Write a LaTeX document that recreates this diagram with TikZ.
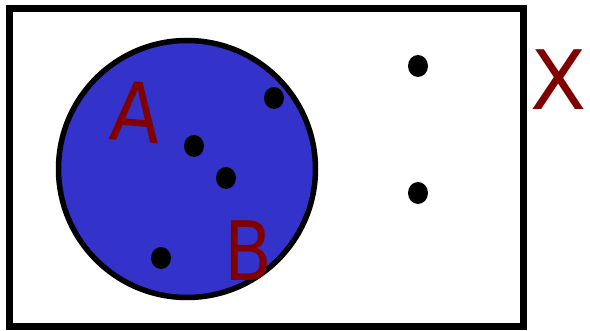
\documentclass[tikz,border=0pt]{standalone}
\usepackage{fontspec}
\setmainfont{DejaVu Sans}
\definecolor{setblue}{RGB}{51,51,204}
\definecolor{lblred}{RGB}{128,0,0}
\usetikzlibrary{shapes.geometric}
\tikzset{
  elem/.style={ellipse, fill=black, minimum width=20pt, minimum height=22pt, inner sep=0pt},
  lbl/.style={text=lblred, font=\fontsize{82}{82}\selectfont, inner sep=0pt},
}
\begin{document}
\begin{tikzpicture}[x=1pt,y=-1pt]
\useasboundingbox (0,0) rectangle (590,331);
\node[draw=black, line width=7pt, minimum width=514pt, minimum height=318pt, inner sep=0pt] (X) at (266,168) {};
\node[circle, draw=black, fill=setblue, line width=5.5pt, minimum size=257pt, inner sep=0pt] (A) at (187,169) {};
\node[elem] (p1) at (418,66) {};
\node[elem] (p2) at (418,193) {};
\node[elem] (p3) at (274,98) {};
\node[elem] (p4) at (194,146) {};
\node[elem] (p5) at (226,178) {};
\node[elem] (p6) at (161,258) {};
\node[lbl, rotate=-5, xscale=0.9] (la) at (136,112) {A};
\node[lbl, xscale=0.85] (lb) at (248,251) {B};
\node[lbl] (lx) at (559,80) {X};
\end{tikzpicture}
\end{document}
